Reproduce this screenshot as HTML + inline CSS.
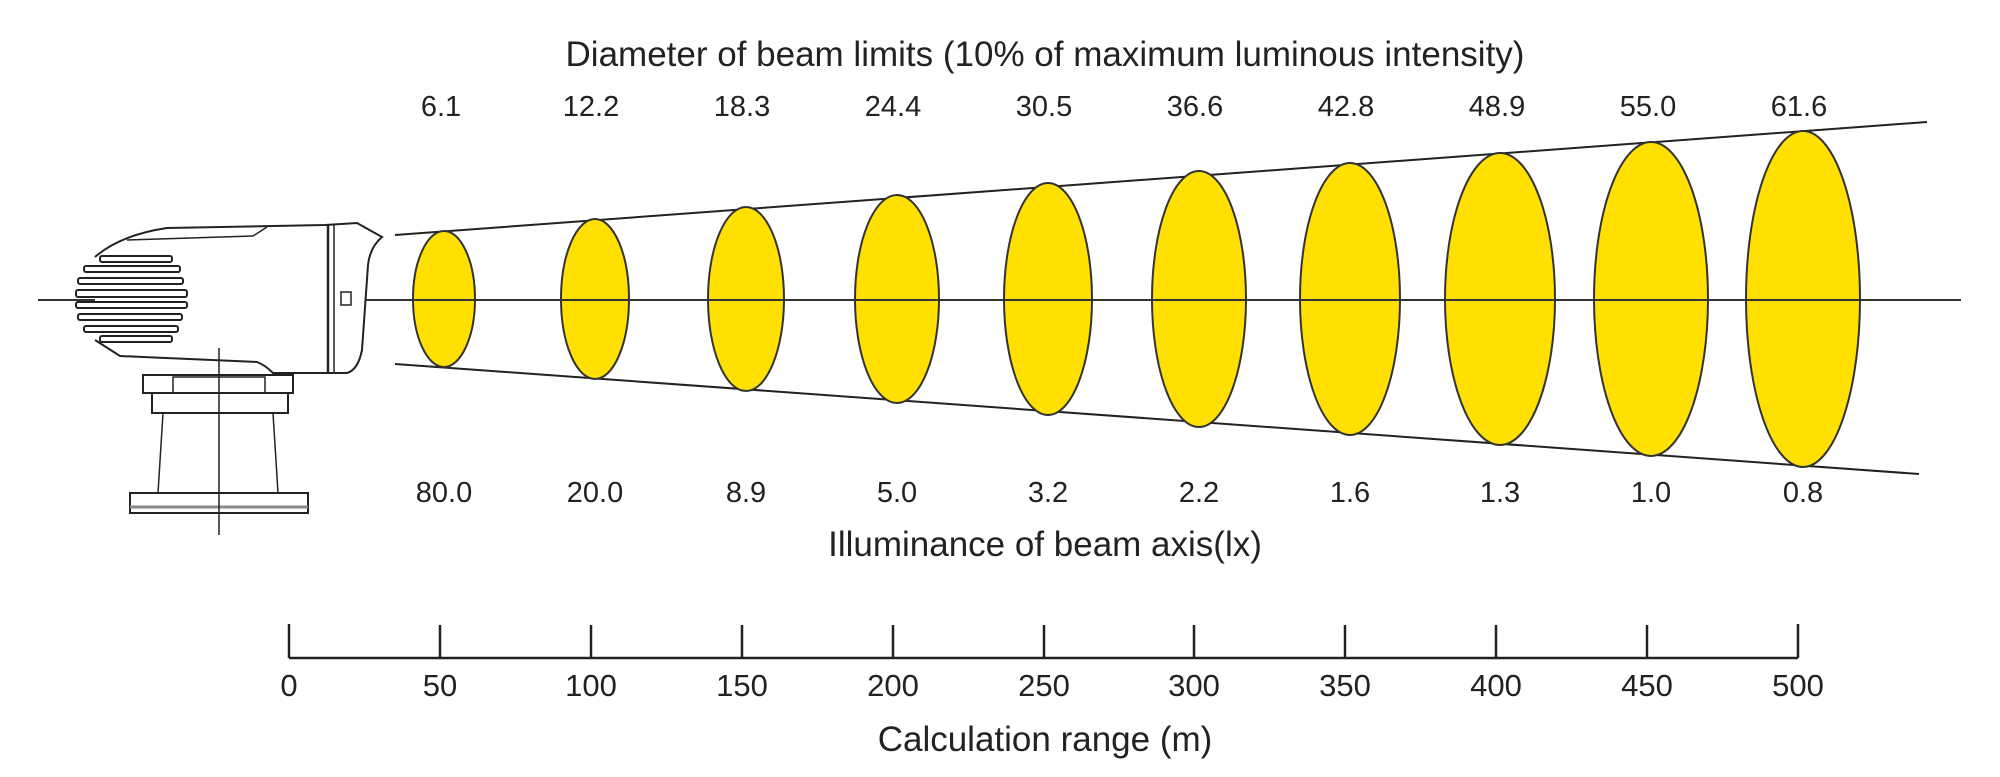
<!DOCTYPE html>
<html><head><meta charset="utf-8"><style>
html,body{margin:0;padding:0;background:#fff;}
svg{display:block;}
text{font-family:"Liberation Sans",sans-serif;fill:#222;}
</style></head><body>
<svg width="2000" height="777" viewBox="0 0 2000 777" xmlns="http://www.w3.org/2000/svg">
<rect width="2000" height="777" fill="#fff"/>
<text x="1045" y="66" font-size="35" text-anchor="middle">Diameter of beam limits (10% of maximum luminous intensity)</text>
<g font-size="29" text-anchor="middle">
<text x="441" y="116">6.1</text><text x="591" y="116">12.2</text><text x="742" y="116">18.3</text><text x="893" y="116">24.4</text><text x="1044" y="116">30.5</text><text x="1195" y="116">36.6</text><text x="1346" y="116">42.8</text><text x="1497" y="116">48.9</text><text x="1648" y="116">55.0</text><text x="1799" y="116">61.6</text>
</g>
<!-- cone -->
<line x1="395" y1="235" x2="1927" y2="122" stroke="#222" stroke-width="2"/>
<line x1="395" y1="364" x2="1919" y2="474" stroke="#222" stroke-width="2"/>
<!-- ellipses -->
<g fill="#ffe000" stroke="#333" stroke-width="2">
<ellipse cx="444" cy="299" rx="31" ry="68"/>
<ellipse cx="595" cy="299" rx="34" ry="80"/>
<ellipse cx="746" cy="299" rx="38" ry="92"/>
<ellipse cx="897" cy="299" rx="42" ry="104"/>
<ellipse cx="1048" cy="299" rx="44" ry="116"/>
<ellipse cx="1199" cy="299" rx="47" ry="128"/>
<ellipse cx="1350" cy="299" rx="50" ry="136"/>
<ellipse cx="1500" cy="299" rx="55" ry="146"/>
<ellipse cx="1651" cy="299" rx="57" ry="157"/>
<ellipse cx="1803" cy="299" rx="57" ry="168"/>
</g>
<line x1="38" y1="300" x2="1961" y2="300" stroke="#333" stroke-width="2"/>
<!-- lamp -->
<g fill="none" stroke="#222" stroke-width="2">
<path d="M95,257 Q120,235 167,228 L325,225 L357,223 L382,237 Q370,247 368,265 L362,350 Q358,370 347,373 L273,373 Q265,365 257,362 L143,357 L120,356 L95,340" fill="#fff"/>
<path d="M127,240 L253,236 L267,227" stroke-width="1.5"/>
<line x1="328" y1="225" x2="328" y2="373" stroke-width="2.5"/>
<line x1="334" y1="225" x2="334" y2="373" stroke-width="1.5"/>
<rect x="341" y="292" width="10" height="13" stroke-width="1.5"/>
<g stroke-width="2" fill="#fff">
<rect x="100" y="256" width="72" height="6" rx="2"/>
<rect x="84" y="266" width="96" height="6" rx="2"/>
<rect x="78" y="278" width="105" height="6" rx="2"/>
<rect x="76" y="290" width="111" height="7" rx="2"/>
<rect x="76" y="302" width="111" height="6" rx="2"/>
<rect x="78" y="314" width="104" height="6" rx="2"/>
<rect x="84" y="326" width="94" height="6" rx="2"/>
<rect x="100" y="336" width="72" height="6" rx="2"/>
</g>
<rect x="143" y="375" width="150" height="18" fill="#fff"/>
<rect x="173" y="377" width="92" height="16" stroke-width="1.5"/>
<rect x="152" y="393" width="136" height="20" fill="#fff"/>
<path d="M163,413 L158,493 M273,413 L278,493" stroke-width="1.5"/>
<rect x="130" y="493" width="178" height="20" fill="#fff"/>
<line x1="130" y1="507" x2="308" y2="507" stroke="#888" stroke-width="3"/>
<line x1="219" y1="348" x2="219" y2="535" stroke-width="1.5"/>
</g>
<g font-size="29" text-anchor="middle">
<text x="444" y="502">80.0</text><text x="595" y="502">20.0</text><text x="746" y="502">8.9</text><text x="897" y="502">5.0</text><text x="1048" y="502">3.2</text><text x="1199" y="502">2.2</text><text x="1350" y="502">1.6</text><text x="1500" y="502">1.3</text><text x="1651" y="502">1.0</text><text x="1803" y="502">0.8</text>
</g>
<text x="1045" y="556" font-size="35" text-anchor="middle">Illuminance of beam axis(lx)</text>
<!-- scale -->
<g stroke="#222" stroke-width="2.5">
<line x1="289" y1="658" x2="1798" y2="658"/>
<line x1="289" y1="624" x2="289" y2="658"/><line x1="440" y1="625" x2="440" y2="658"/><line x1="591" y1="625" x2="591" y2="658"/><line x1="742" y1="625" x2="742" y2="658"/><line x1="893" y1="625" x2="893" y2="658"/><line x1="1044" y1="625" x2="1044" y2="658"/><line x1="1194" y1="625" x2="1194" y2="658"/><line x1="1345" y1="625" x2="1345" y2="658"/><line x1="1496" y1="625" x2="1496" y2="658"/><line x1="1647" y1="625" x2="1647" y2="658"/><line x1="1798" y1="624" x2="1798" y2="658"/>
</g>
<g font-size="31" text-anchor="middle">
<text x="289" y="696">0</text><text x="440" y="696">50</text><text x="591" y="696">100</text><text x="742" y="696">150</text><text x="893" y="696">200</text><text x="1044" y="696">250</text><text x="1194" y="696">300</text><text x="1345" y="696">350</text><text x="1496" y="696">400</text><text x="1647" y="696">450</text><text x="1798" y="696">500</text>
</g>
<text x="1045" y="751" font-size="35" text-anchor="middle">Calculation range (m)</text>
</svg>
</body></html>
